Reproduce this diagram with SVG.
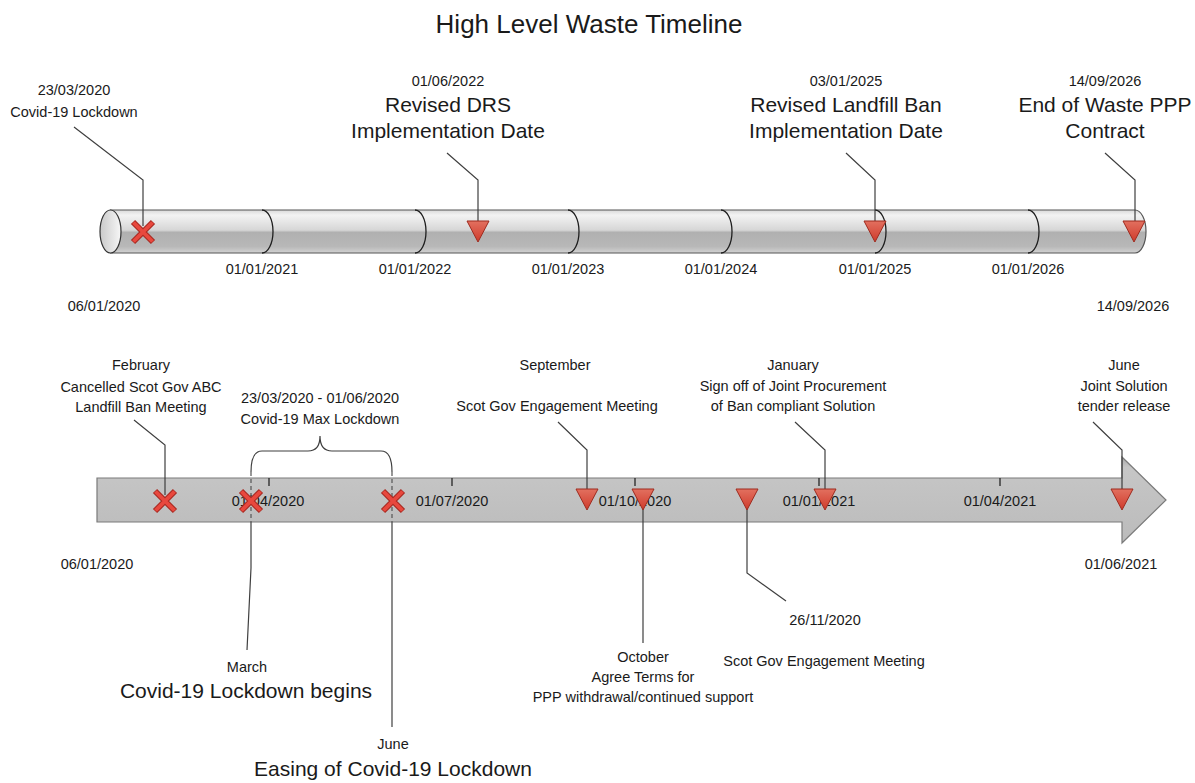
<svg xmlns="http://www.w3.org/2000/svg" width="1195" height="783" viewBox="0 0 1195 783">
<defs>
<style>
text{font-family:"Liberation Sans",Arial,sans-serif;fill:#1a1a1a;text-anchor:middle}
.s{font-size:14.5px}
.l{font-size:21px}
.t{font-size:26px}
.con{fill:none;stroke:#3f3f3f;stroke-width:1.2}
.div{fill:none;stroke:#1e1e1e;stroke-width:1.3}
.tick{stroke:#262626;stroke-width:1.3}
.dash{fill:none;stroke:#555;stroke-width:1.2;stroke-dasharray:4 3}
</style>
<linearGradient id="cyl" x1="0" y1="0" x2="0" y2="1">
<stop offset="0" stop-color="#d9d9d9"/>
<stop offset="0.12" stop-color="#f3f3f3"/>
<stop offset="0.47" stop-color="#d6d6d6"/>
<stop offset="0.52" stop-color="#b0b0b0"/>
<stop offset="0.85" stop-color="#b8b8b8"/>
<stop offset="1" stop-color="#d2d2d2"/>
</linearGradient>
<linearGradient id="cap" x1="0" y1="0" x2="1" y2="0">
<stop offset="0" stop-color="#c9c9c9"/>
<stop offset="1" stop-color="#f7f7f7"/>
</linearGradient>
<linearGradient id="bar" x1="0" y1="0" x2="0" y2="1">
<stop offset="0" stop-color="#a9a9a9"/>
<stop offset="0.12" stop-color="#c6c6c6"/>
<stop offset="1" stop-color="#bbbbbb"/>
</linearGradient>
<linearGradient id="tri" x1="0" y1="0" x2="0" y2="1">
<stop offset="0" stop-color="#e2705f"/>
<stop offset="1" stop-color="#cf3a2b"/>
</linearGradient>
<g id="xm">
<path d="M-10,-10 L10,10 M10,-10 L-10,10" stroke="#a82a22" stroke-width="6"/>
<path d="M-9.5,-9.5 L9.5,9.5 M9.5,-9.5 L-9.5,9.5" stroke="#e8483e" stroke-width="3.8"/>
</g>
<polygon id="tm" points="-11,-10.5 11,-10.5 0,10.5" fill="url(#tri)" stroke="#9e2b1f" stroke-width="1"/>
</defs>
<rect width="1195" height="783" fill="#ffffff"/>

<text class="t" x="589" y="33">High Level Waste Timeline</text>

<g id="top-timeline">
<path d="M110.5,210 L1135,210 A11,21.5 0 0 1 1135,253 L110.5,253 Z" fill="url(#cyl)" stroke="#555" stroke-width="1.2"/>
<ellipse cx="110.5" cy="231.5" rx="10.5" ry="21.5" fill="url(#cap)" stroke="#333" stroke-width="1.2"/>
<path class="div" d="M262,210 A11,21.5 0 0 1 262,253"/>
<path class="div" d="M415,210 A11,21.5 0 0 1 415,253"/>
<path class="div" d="M568,210 A11,21.5 0 0 1 568,253"/>
<path class="div" d="M721,210 A11,21.5 0 0 1 721,253"/>
<path class="div" d="M875,210 A11,21.5 0 0 1 875,253"/>
<path class="div" d="M1028,210 A11,21.5 0 0 1 1028,253"/>
<text class="s" x="262" y="274">01/01/2021</text>
<text class="s" x="415" y="274">01/01/2022</text>
<text class="s" x="568" y="274">01/01/2023</text>
<text class="s" x="721" y="274">01/01/2024</text>
<text class="s" x="875" y="274">01/01/2025</text>
<text class="s" x="1028" y="274">01/01/2026</text>
<text class="s" x="104" y="311">06/01/2020</text>
<text class="s" x="1133" y="311">14/09/2026</text>
</g>

<g id="bottom-timeline">
<polygon points="97,478 1122,478 1122,457 1166,500 1122,543 1122,522 97,522" fill="url(#bar)" stroke="#7a7a7a" stroke-width="1.2"/>
<line class="tick" x1="269" y1="478" x2="269" y2="486"/>
<line class="tick" x1="452" y1="478" x2="452" y2="486"/>
<line class="tick" x1="635" y1="478" x2="635" y2="486"/>
<line class="tick" x1="819" y1="478" x2="819" y2="486"/>
<line class="tick" x1="1000" y1="478" x2="1000" y2="486"/>
<text class="s" x="268" y="506">01/04/2020</text>
<text class="s" x="452" y="506">01/07/2020</text>
<text class="s" x="635" y="506">01/10/2020</text>
<text class="s" x="819" y="506">01/01/2021</text>
<text class="s" x="1000" y="506">01/04/2021</text>
<text class="s" x="97" y="569">06/01/2020</text>
<text class="s" x="1121" y="569">01/06/2021</text>
</g>

<g id="connectors">
<polyline class="con" points="74,127 143,180 143,226"/>
<polyline class="con" points="447,153 478,180 478,226"/>
<polyline class="con" points="846,153 875,180 875,226"/>
<polyline class="con" points="1105,153 1135,180 1135,226"/>
<polyline class="con" points="134,420 165,445 165,495"/>
<polyline class="con" points="558,422 587,450 587,495"/>
<polyline class="con" points="795,422 825,450 825,495"/>
<polyline class="con" points="1093,422 1122,450 1122,495"/>
<path class="con" d="M251,472 Q251,451 262,451 L308,451 Q320,451 320,436 Q320,451 332,451 L381,451 Q392,451 392,472" stroke-width="1.5"/>
<line class="dash" x1="251" y1="472" x2="251" y2="522"/>
<line class="dash" x1="392" y1="472" x2="392" y2="522"/>
<polyline class="con" points="251,522 251,568 247,650"/>
<polyline class="con" points="392,522 392,727"/>
<polyline class="con" points="643,505 643,643"/>
<polyline class="con" points="747,505 747,573 786,601"/>
</g>

<g id="n-lockdown-2020">
<use href="#xm" x="143" y="232"/>
<text class="s" x="74" y="95">23/03/2020</text>
<text class="s" x="74" y="117">Covid-19 Lockdown</text>
</g>
<g id="n-drs">
<use href="#tm" x="478" y="231.5"/>
<text class="s" x="448" y="86">01/06/2022</text>
<text class="l" x="448" y="112">Revised DRS</text>
<text class="l" x="448" y="138">Implementation Date</text>
</g>
<g id="n-landfill">
<use href="#tm" x="875" y="231.5"/>
<text class="s" x="846" y="86">03/01/2025</text>
<text class="l" x="846" y="112">Revised Landfill Ban</text>
<text class="l" x="846" y="138">Implementation Date</text>
</g>
<g id="n-ppp">
<use href="#tm" x="1134" y="231.5"/>
<text class="s" x="1105" y="86">14/09/2026</text>
<text class="l" x="1105" y="112">End of Waste PPP</text>
<text class="l" x="1105" y="138">Contract</text>
</g>

<g id="n-february">
<use href="#xm" x="165" y="501"/>
<text class="s" x="141" y="370">February</text>
<text class="s" x="141" y="392">Cancelled Scot Gov ABC</text>
<text class="s" x="141" y="412">Landfill Ban Meeting</text>
</g>
<g id="n-max-lockdown">
<text class="s" x="320" y="403">23/03/2020 - 01/06/2020</text>
<text class="s" x="320" y="424">Covid-19 Max Lockdown</text>
</g>
<g id="n-march">
<use href="#xm" x="251" y="501"/>
<text class="s" x="247" y="672">March</text>
<text class="l" x="246" y="698">Covid-19 Lockdown begins</text>
</g>
<g id="n-june-2020">
<use href="#xm" x="393" y="501"/>
<text class="s" x="393" y="749">June</text>
<text class="l" x="393" y="776">Easing of Covid-19 Lockdown</text>
</g>
<g id="n-september">
<use href="#tm" x="587" y="499.5"/>
<text class="s" x="555" y="370">September</text>
<text class="s" x="557" y="411">Scot Gov Engagement Meeting</text>
</g>
<g id="n-october">
<use href="#tm" x="643" y="499.5"/>
<text class="s" x="643" y="662">October</text>
<text class="s" x="643" y="682">Agree Terms for</text>
<text class="s" x="643" y="702">PPP withdrawal/continued support</text>
</g>
<g id="n-november">
<use href="#tm" x="747" y="499.5"/>
<text class="s" x="825" y="625">26/11/2020</text>
<text class="s" x="824" y="666">Scot Gov Engagement Meeting</text>
</g>
<g id="n-january">
<use href="#tm" x="825" y="499.5"/>
<text class="s" x="793" y="370">January</text>
<text class="s" x="793" y="391">Sign off of Joint Procurement</text>
<text class="s" x="793" y="411">of Ban compliant Solution</text>
</g>
<g id="n-june-2021">
<use href="#tm" x="1122" y="499.5"/>
<text class="s" x="1124" y="370">June</text>
<text class="s" x="1124" y="391">Joint Solution</text>
<text class="s" x="1124" y="411">tender release</text>
</g>
</svg>
